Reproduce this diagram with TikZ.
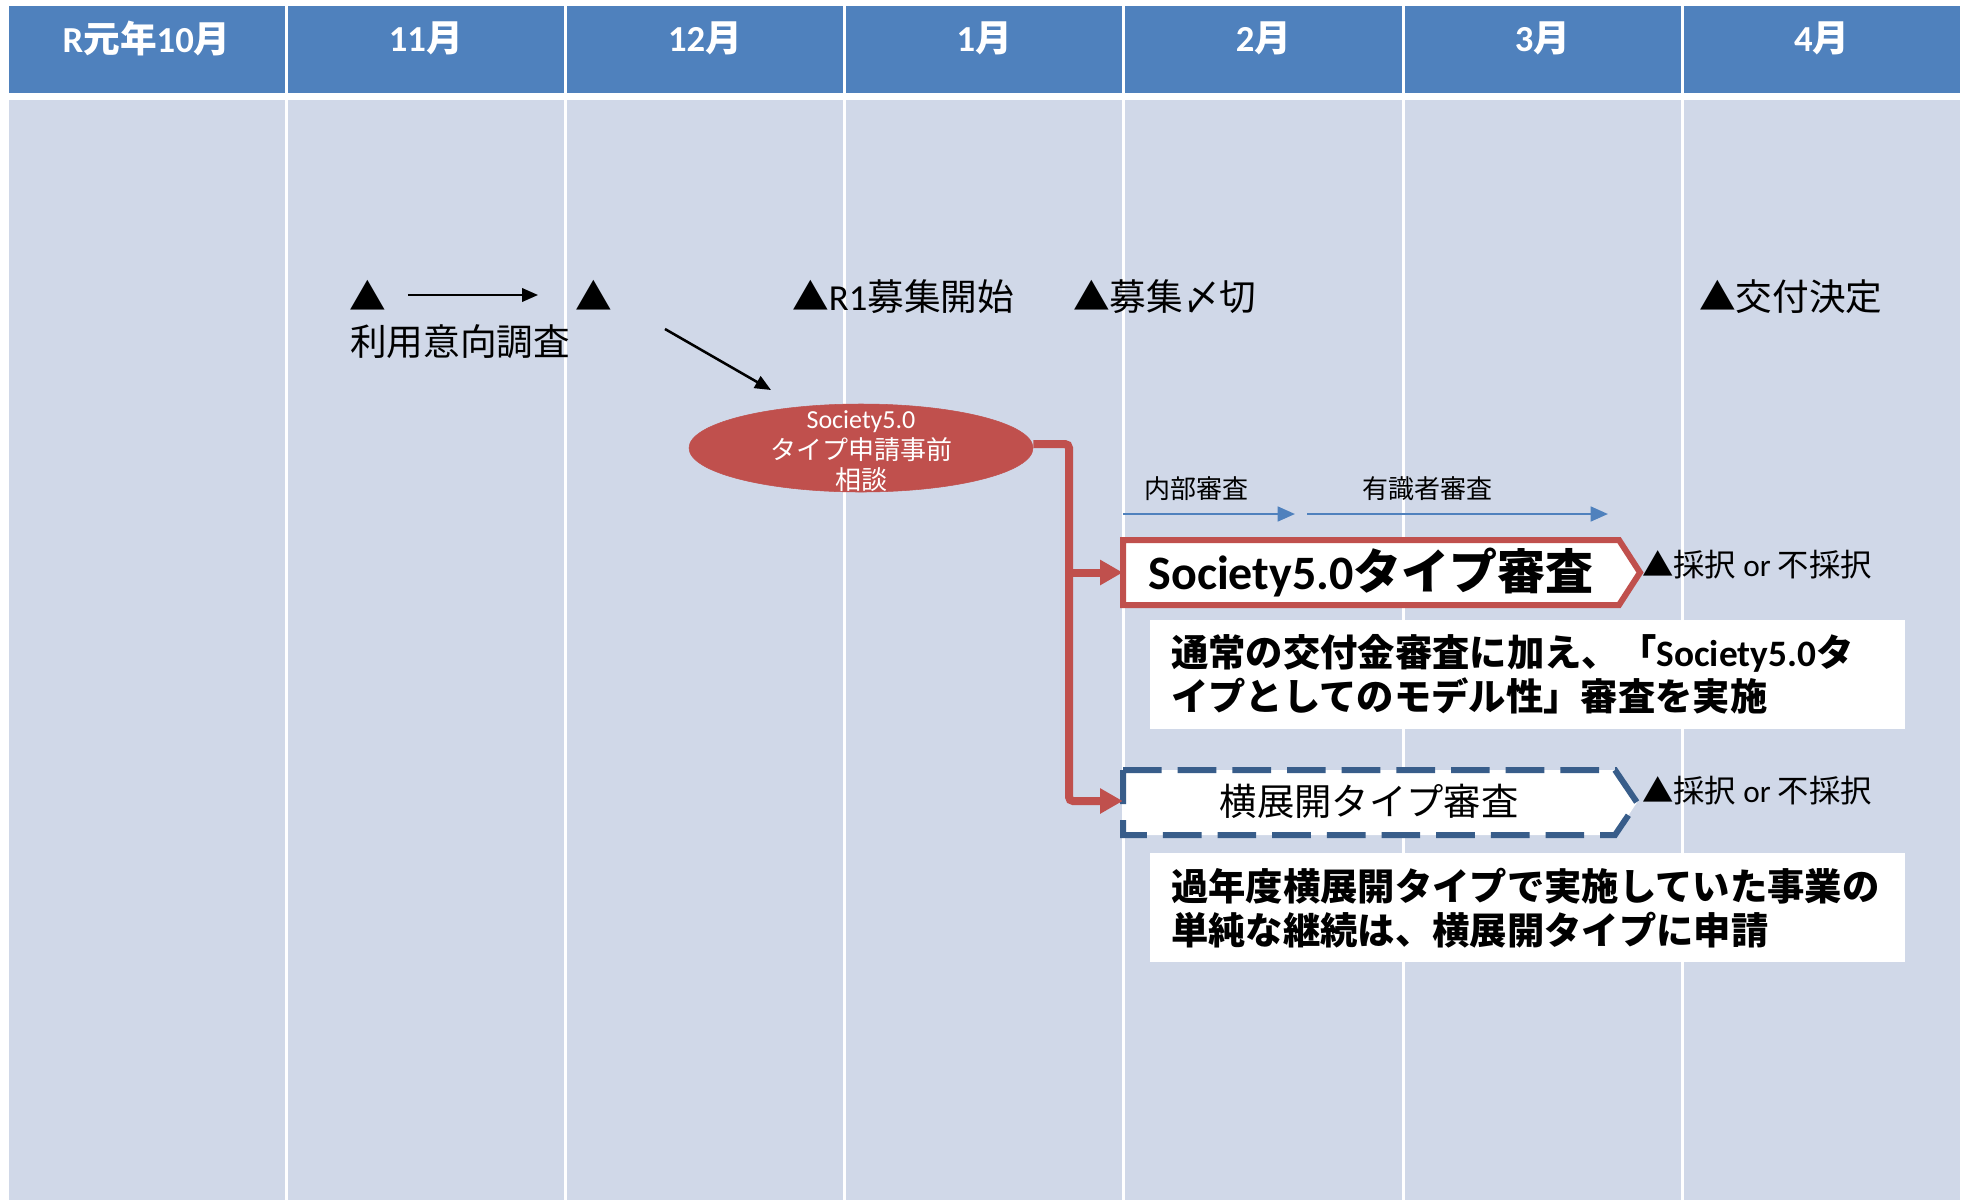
\documentclass[tikz,border=0pt]{standalone}
\usepackage{fontspec}
\setmainfont{Noto Sans CJK JP}
\newfontfamily\latf{Carlito}
\usetikzlibrary{arrows.meta,shapes.geometric}
\definecolor{hdrblue}{HTML}{4F81BD}
\definecolor{bodyblue}{HTML}{D0D8E8}
\definecolor{accred}{HTML}{C0504D}
\definecolor{dashblue}{HTML}{385D8A}
\tikzset{
  hdr/.style={text=white, font=\fontsize{27.5}{31}\selectfont\bfseries, inner sep=0},
  lbl/.style={font=\fontsize{27.5}{32}\selectfont, inner sep=0},
  small/.style={font=\fontsize{19.5}{23}\selectfont, inner sep=0},
  res/.style={font=\fontsize{23.5}{27}\selectfont, inner sep=0, anchor=west},
  note/.style={fill=white, anchor=north west, minimum width=566.25pt, minimum height=81.75pt,
    text width=534.75pt, inner xsep=15.75pt, inner ysep=0, align=left,
    font=\fontsize{28}{33}\selectfont\bfseries},
  blk/.style={line width=1.9pt, -{Triangle[length=12pt,width=10pt]}},
  redarr/.style={draw=accred, line width=6pt, rounded corners=3pt, -{Triangle[length=17pt,width=18pt]}},
  bluearr/.style={draw=hdrblue, line width=1.9pt, -{Triangle[length=13pt,width=11pt]}},
}
\begin{document}
\begin{tikzpicture}[x=0.75pt,y=-0.75pt]
\useasboundingbox (0,0) rectangle (1963,1200);
\fill[white] (0,0) rectangle (1963,1200);
% columns
\foreach \i in {0,...,6} {
  \pgfmathsetmacro\xa{7+279.2*\i+1.5}
  \pgfmathsetmacro\xb{7+279.2*(\i+1)-1.5}
  \fill[hdrblue] (\xa,6) rectangle (\xb,93);
  \fill[bodyblue] (\xa,100) rectangle (\xb,1200);
}
% header labels
\node[hdr] (h1) at (146.6,38) {{\latf R}元年{\latf 10}月};
\node[hdr] (h2) at (425.8,38) {{\latf 11}月};
\node[hdr] (h3) at (705.0,38) {{\latf 12}月};
\node[hdr] (h4) at (984.2,38) {{\latf 1}月};
\node[hdr] (h5) at (1263.4,38) {{\latf 2}月};
\node[hdr] (h6) at (1542.6,38) {{\latf 3}月};
\node[hdr] (h7) at (1821.8,38) {{\latf 4}月};
% milestones
\node[lbl] (t1) at (368,295) {▲};
\node[lbl] (t2) at (594,295) {▲};
\node[lbl, anchor=west] (survey) at (350,342) {利用意向調査};
\draw[blk] ([xshift=16pt]t1.east) -- ([xshift=-28pt]t2.west);
\node[lbl, anchor=west] (start) at (792,297) {▲{\latf R1}募集開始};
\node[lbl, anchor=west] (close) at (1073,297) {▲募集〆切};
\node[lbl, anchor=west] (decide) at (1699,297) {▲交付決定};
\coordinate (d1) at (665,329);
\coordinate (d2) at (771,390);
\draw[blk] (d1) -- (d2);
% consultation ellipse
\node[ellipse, fill=accred, draw=accred, minimum width=258pt, minimum height=66pt, inner sep=0] (consult) at (861,448) {};
\node[small, text=white, align=center, font=\fontsize{19.5}{23}\selectfont] (consulttext) at ([yshift=-2.5pt]consult.center) {{\latf Society5.0}\\タイプ申請事前\\相談};
% review phases
\node[small] (naibu) at (1196,489) {内部審査};
\node[small] (yushiki) at (1427,489) {有識者審査};
\coordinate (b1s) at (1123,514);
\coordinate (b1e) at (1295,514);
\coordinate (b2s) at (1307,514);
\coordinate (b2e) at (1608,514);
\draw[bluearr] (b1s) -- (b1e);
\draw[bluearr] (b2s) -- (b2e);
% Society5.0 review box
\draw[draw=accred, line width=4.5pt, fill=white, line join=miter]
  (1123,540) -- (1619,540) -- (1640,572.5) -- (1619,605) -- (1123,605) -- cycle;
\node[inner sep=0, minimum width=372pt, minimum height=48.75pt, font=\fontsize{36}{40}\selectfont\bfseries] (soc) at (1371,572.5) {{\latf Society5.0}タイプ審査};
\node[res] (res1) at (1642,565) {▲採択 {\latf or} 不採択};
% horizontal expansion review box
\draw[draw=dashblue, line width=4.5pt, fill=white, dash pattern=on 29pt off 12pt]
  (1123,770) -- (1615,770) -- (1637,802.5) -- (1615,835) -- (1123,835) -- cycle;
\node[inner sep=0, minimum width=369pt, minimum height=48.75pt, font=\fontsize{28}{32}\selectfont] (yoko) at (1369,801) {横展開タイプ審査};
\node[res] (res2) at (1642,791) {▲採択 {\latf or} 不採択};
% red connectors
\coordinate (j) at (1069,444);
\draw[redarr] (consult.east |- j) -- (j) |- (yoko.west);
\draw[redarr] (j |- soc.west) -- (soc.west);
% notes
\node[note] (note1) at (1150,620) {通常の交付金審査に加え、「{\latf Society5.0}タ\\イプとしてのモデル性」審査を実施};
\node[note] (note2) at (1150,853) {過年度横展開タイプで実施していた事業の\\単純な継続は、横展開タイプに申請};
\end{tikzpicture}
\end{document}
